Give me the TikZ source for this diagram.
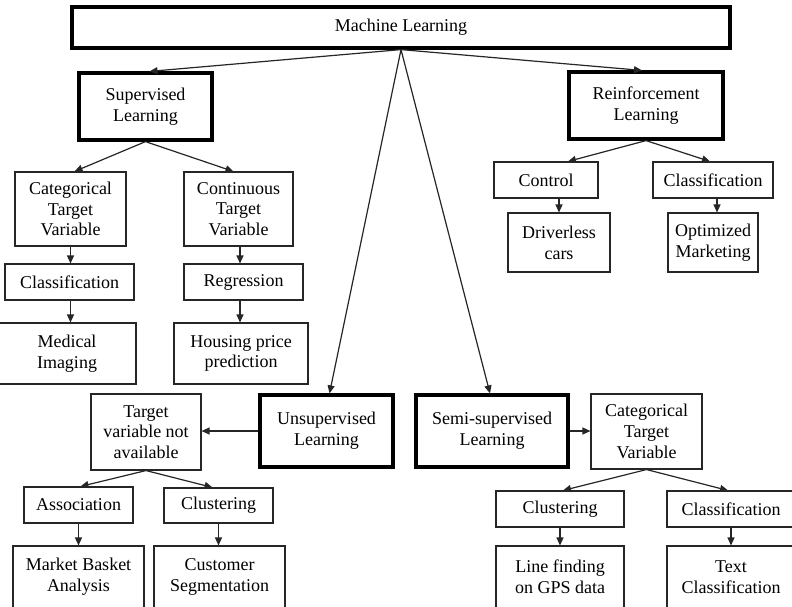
\documentclass[tikz,border=0pt]{standalone}
\usepackage{fontspec}
\setmainfont{Liberation Serif}
\usetikzlibrary{arrows.meta}
\begin{document}
\begin{tikzpicture}[x=1pt,y=-1pt,
  every node/.style={font=\fontsize{18}{20.7}\selectfont, align=center, inner sep=0pt},
  box/.style={draw=black!85, line width=1.1pt},
  bigbox/.style={draw=black, line width=3.2pt},
  arr/.style={draw=black!85, line width=1.2pt, -{Triangle[length=8pt,width=7pt]}}]
\useasboundingbox (0,0) rectangle (792,606);
\clip (0,0) rectangle (792,606);
\fill[white] (0,0) rectangle (792,606);

% root
\node[bigbox, minimum width=658pt, minimum height=41pt] (ml) at (401,27.5) {Machine Learning};

% main branches
\node[bigbox, minimum width=133pt, minimum height=67pt] (sup) at (145.5,106.5) {Supervised\\Learning};
\node[bigbox, minimum width=154pt, minimum height=67pt] (rl) at (646,105.5) {Reinforcement\\Learning};
\node[bigbox, minimum width=133pt, minimum height=72pt] (uns) at (326.5,431) {Unsupervised\\Learning};
\node[bigbox, minimum width=152pt, minimum height=72pt] (semi) at (492,431) {Semi-supervised\\Learning};

% supervised learning
\node[box, minimum width=111pt, minimum height=74pt] (cat) at (70.5,209) {Categorical\\Target\\Variable};
\node[box, minimum width=109pt, minimum height=74pt] (cont) at (238.5,209) {Continuous\\Target\\Variable};
\node[box, minimum width=129pt, minimum height=36pt] (cls1) at (69.5,282) {Classification};
\node[box, minimum width=119pt, minimum height=36pt] (reg) at (243.5,282) {Regression};
\node[box, minimum width=138pt, minimum height=61pt] (med) at (67,353.5) {Medical\\Imaging};
\node[box, minimum width=134pt, minimum height=61pt] (house) at (241,353.5) {Housing price\\prediction};

% reinforcement learning
\node[box, minimum width=104pt, minimum height=36pt] (rlctl) at (546,180) {Control};
\node[box, minimum width=120pt, minimum height=36pt] (rlcls) at (713,180) {Classification};
\node[box, minimum width=102pt, minimum height=59pt] (drv) at (559,242.5) {Driverless\\cars};
\node[box, minimum width=90pt, minimum height=59pt] (opt) at (713,242.5) {Optimized\\Marketing};

% unsupervised learning
\node[box, minimum width=110pt, minimum height=76pt] (tv) at (146,432) {Target\\variable not\\available};
\node[box, minimum width=109pt, minimum height=36pt] (assoc) at (78.5,505) {Association};
\node[box, minimum width=109pt, minimum height=35pt] (clu1) at (218.5,505.5) {Clustering};
\node[box, minimum width=131pt, minimum height=62pt] (mba) at (78.5,577) {Market Basket\\Analysis};
\node[box, minimum width=131pt, minimum height=62pt] (cs) at (219.5,577) {Customer\\Segmentation};

% semi-supervised learning
\node[box, minimum width=111pt, minimum height=75pt] (cat2) at (646.5,431.5) {Categorical\\Target\\Variable};
\node[box, minimum width=128pt, minimum height=36pt] (clu2) at (560,509) {Clustering};
\node[box, minimum width=128pt, minimum height=36pt] (cls2) at (731,509) {Classification};
\node[box, minimum width=128pt, minimum height=62pt] (lf) at (560,577) {Line finding\\on GPS data};
\node[box, minimum width=128pt, minimum height=62pt] (tc) at (731,577) {Text\\Classification};

% connectors from the root
\draw[arr] (ml.south) -- ([xshift=4pt]sup.north);
\draw[arr] (ml.south) -- ([xshift=-4pt]rl.north);
\draw[arr] (ml.south) -- ([xshift=3pt]uns.north);
\draw[arr] (ml.south) -- ([xshift=-2pt]semi.north);

% supervised
\draw[arr] (sup.south) -- ([xshift=4pt]cat.north);
\draw[arr] (sup.south) -- ([xshift=-5pt]cont.north);
\draw[arr] (cat.south) -- (cat.south |- cls1.north);
\draw[arr] (cat.south |- cls1.south) -- (cat.south |- med.north);
\draw[arr] ([xshift=1.5pt]cont.south) -- ([xshift=1.5pt]cont.south |- reg.north);
\draw[arr] ([xshift=1.5pt]cont.south |- reg.south) -- ([xshift=1.5pt]cont.south |- house.north);

% reinforcement
\draw[arr] (rl.south) -- ([xshift=22pt]rlctl.north);
\draw[arr] (rl.south) -- ([xshift=-3pt]rlcls.north);
\draw[arr] (drv.north |- rlctl.south) -- (drv.north);
\draw[arr] ([xshift=4pt]rlcls.south) -- ([xshift=4pt]opt.north);

% unsupervised
\draw[arr] (uns.west) -- (uns.west -| tv.east);
\draw[arr] (tv.south) -- ([xshift=2pt]assoc.north);
\draw[arr] (tv.south) -- ([xshift=-6pt]clu1.north);
\draw[arr] (assoc.south) -- (assoc.south |- mba.north);
\draw[arr] (clu1.south) -- (clu1.south |- cs.north);

% semi-supervised
\draw[arr] (semi.east) -- (semi.east -| cat2.west);
\draw[arr] (cat2.south) -- ([xshift=3pt]clu2.north);
\draw[arr] (cat2.south) -- ([xshift=-3pt]cls2.north);
\draw[arr] (clu2.south) -- (clu2.south |- lf.north);
\draw[arr] (cls2.south) -- (cls2.south |- tc.north);
\end{tikzpicture}
\end{document}
